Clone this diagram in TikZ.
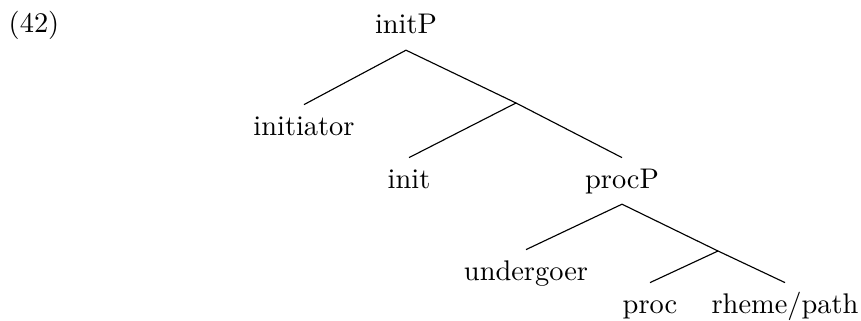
\documentclass[tikz,border=0pt]{standalone}
\begin{document}
\begin{tikzpicture}[x=0.352pt,y=0.352pt,yscale=-1,xscale=1,
  lbl/.style={anchor=base,inner sep=3.5pt,text height=7pt,text depth=2pt}]
%set diagram size
\useasboundingbox (0,0) rectangle (861,320);

% Text Node
\node (exno) at (34,33) [lbl] {(42)};
% Text Node
\node (initP) at (406,34) [lbl] {initP};
% Text Node
\node (initiator) at (304,135) [lbl] {initiator};
% Text Node
\node (init) at (409,188) [lbl] {init};
% Text Node
\node (procP) at (622,188) [lbl] {procP};
% Text Node
\node (undergoer) at (526,280) [lbl] {undergoer};
% Text Node
\node (proc) at (650,313) [lbl] {proc};
% Text Node
\node (rheme) at (785,313) [lbl] {rheme/path};

%bar nodes
\coordinate (initbar) at (516,103);
\coordinate (procbar) at (718,251);

%Straight Lines
\draw (initP.south) -- (initiator.north);
\draw (initP.south) -- (initbar) -- (procP.north);
\draw (initbar) -- (init.north);
%Straight Lines
\draw (procP.south) -- (undergoer.north);
\draw (procP.south) -- (procbar) -- (rheme.north);
\draw (procbar) -- (proc.north);

\end{tikzpicture}
\end{document}
